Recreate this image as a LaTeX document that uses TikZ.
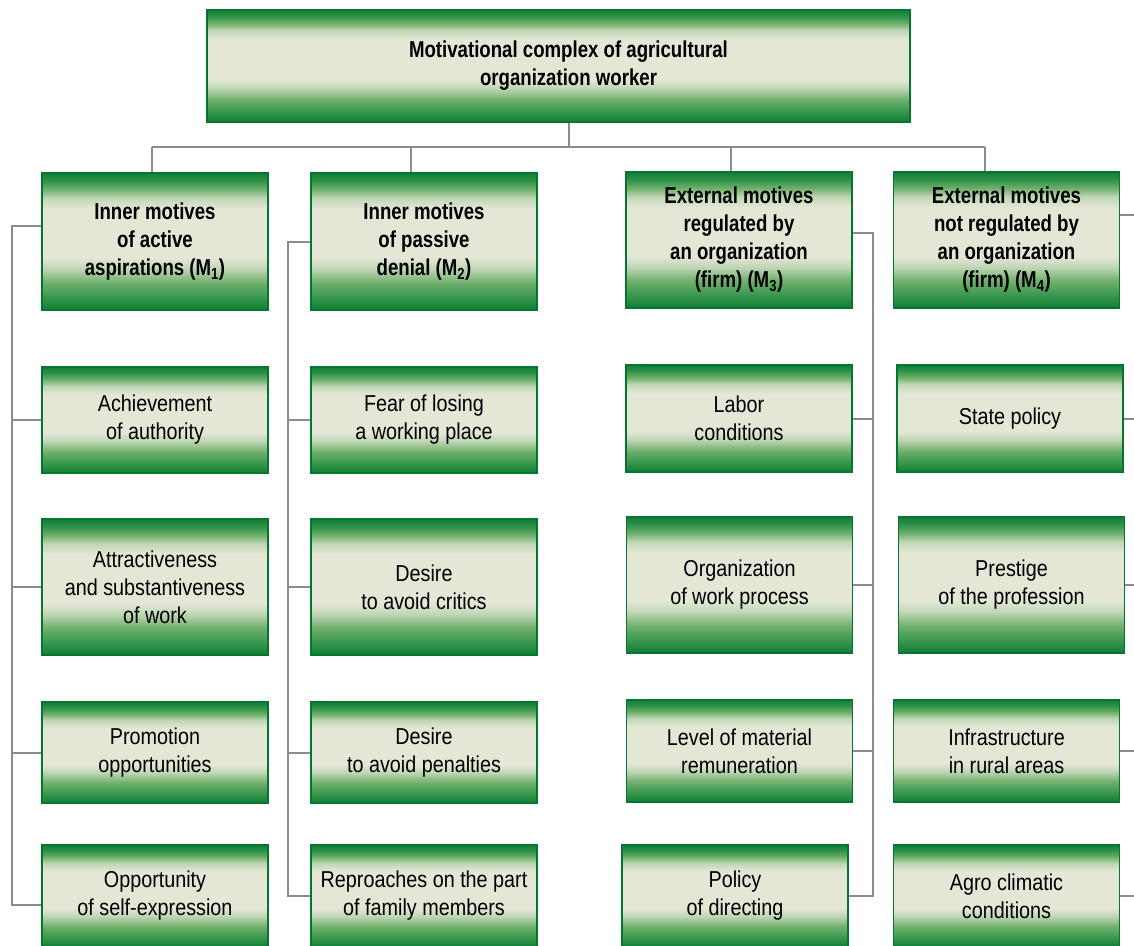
\documentclass[tikz,border=0pt]{standalone}
\usepackage{fontspec}
\setmainfont{Liberation Sans}[FakeStretch=0.86]
\newfontfamily\headfont{Liberation Sans}[FakeStretch=0.81]
\usetikzlibrary{calc}
\definecolor{gdark}{RGB}{16,126,52}
\definecolor{gdarktwo}{RGB}{50,148,74}
\definecolor{gmid}{RGB}{112,176,108}
\definecolor{glight}{RGB}{190,214,180}
\definecolor{gbeige}{RGB}{228,231,214}
\definecolor{gborder}{RGB}{5,118,48}
\definecolor{linegray}{RGB}{140,140,140}
\pgfdeclareverticalshading{boxshade}{100bp}{color(0bp)=(gdark); color(25bp)=(gdark); color(29bp)=(gdarktwo); color(35bp)=(gmid); color(40bp)=(glight); color(44bp)=(gbeige); color(62bp)=(gbeige); color(66bp)=(glight); color(69bp)=(gmid); color(72bp)=(gdarktwo); color(75bp)=(gdark); color(100bp)=(gdark)}
\tikzset{
  box/.style={draw=gborder, line width=1.6pt, shading=boxshade, minimum width=226pt,
    inner sep=1pt, align=center, text=black, font=\fontsize{23}{28}\selectfont},
  headbox/.style={box, font=\headfont\bfseries\fontsize{23}{28}\selectfont},
  conn/.style={draw=linegray, line width=2pt}
}
\begin{document}
\begin{tikzpicture}[x=1pt,y=-1pt]
\clip (0,0) rectangle (1134,945);
\useasboundingbox (0,0) rectangle (1134,945);
% title
\node[headbox, minimum width=703pt, minimum height=112pt] (top) at (558.5,66)
  {\hspace*{20pt}Motivational complex of agricultural\\\hspace*{20pt}organization worker};
% column 1
\node[headbox, minimum height=137pt] (h1) at (155,241.5) {Inner motives\\of active\\aspirations (M\textsubscript{1})};
\node[box, minimum height=106pt] (a1) at (155,420) {Achievement\\of authority};
\node[box, minimum height=136pt] (a2) at (155,587) {Attractiveness\\and substantiveness\\of work};
\node[box, minimum height=101pt] (a3) at (155,752.5) {Promotion\\opportunities};
\node[box, minimum height=102pt] (a4) at (155,896) {Opportunity\\of self-expression};
% column 2
\node[headbox, minimum height=137pt] (h2) at (424,241.5) {Inner motives\\of passive\\denial (M\textsubscript{2})};
\node[box, minimum height=106pt] (b1) at (424,420) {Fear of losing\\a working place};
\node[box, minimum height=136pt] (b2) at (424,587) {Desire\\to avoid critics};
\node[box, minimum height=101pt] (b3) at (424,752.5) {Desire\\to avoid penalties};
\node[box, minimum height=102pt] (b4) at (424,896) {Reproaches on the part\\of family members};
% column 3
\node[headbox, minimum height=136pt] (h3) at (739,240) {External motives\\regulated by\\an organization\\(firm) (M\textsubscript{3})};
\node[box, minimum height=107pt] (c1) at (739,418.5) {Labor\\conditions};
\node[box, minimum height=136pt] (c2) at (739.5,585) {Organization\\of work process};
\node[box, minimum height=102pt] (c3) at (739.5,751) {Level of material\\remuneration};
\node[box, minimum height=102pt] (c4) at (735,896) {Policy\\of directing};
% column 4
\node[headbox, minimum height=136pt] (h4) at (1006.5,240) {External motives\\not regulated by\\an organization\\(firm) (M\textsubscript{4})};
\node[box, minimum height=107pt] (d1) at (1010,418.5) {State policy};
\node[box, minimum height=136pt] (d2) at (1011.5,585) {Prestige\\of the profession};
\node[box, minimum height=102pt] (d3) at (1006.5,751) {Infrastructure\\in rural areas};
\node[box, minimum height=102pt] (d4) at (1006.5,896) {Agro climatic\\conditions};
% top connectors
\coordinate (hub) at (569,147);
\coordinate (t1) at (152,147);
\coordinate (t2) at (411,147);
\coordinate (t3) at (731,147);
\coordinate (t4) at (985,147);
\draw[conn] (top.south -| hub) -- (hub);
\draw[conn] (t1) -- (t4);
\draw[conn] (t1) -- (t1 |- h1.north);
\draw[conn] (t2) -- (t2 |- h2.north);
\draw[conn] (t3) -- (t3 |- h3.north);
\draw[conn] (t4) -- (t4 |- h4.north);
% column 1 bus
\coordinate (L1) at (12,0);
\coordinate (h1p) at ($(h1.west)+(0,-15.5)$);
\coordinate (a4p) at ($(a4.west)+(0,9)$);
\draw[conn] (h1p) -- (h1p -| L1) -- (a4p -| L1) -- (a4p);
\foreach \n in {a1,a2,a3} \draw[conn] (\n.west) -- (\n.west -| L1);
% column 2 bus
\coordinate (L2) at (288,0);
\draw[conn] (h2.west) -- (h2.west -| L2) -- (b4.west -| L2) -- (b4.west);
\foreach \n in {b1,b2,b3} \draw[conn] (\n.west) -- (\n.west -| L2);
% column 3 bus
\coordinate (R3) at (873,0);
\coordinate (h3p) at ($(h3.east)+(0,-7)$);
\draw[conn] (h3p) -- (h3p -| R3) -- (c4.east -| R3) -- (c4.east);
\foreach \n in {c1,c2,c3} \draw[conn] (\n.east) -- (\n.east -| R3);
% column 4 stubs
\coordinate (R4) at (1134,0);
\coordinate (h4p) at ($(h4.east)+(0,-25)$);
\draw[conn] (h4p) -- (h4p -| R4);
\foreach \n in {d1,d2,d3,d4} \draw[conn] (\n.east) -- (\n.east -| R4);
\end{tikzpicture}
\end{document}
